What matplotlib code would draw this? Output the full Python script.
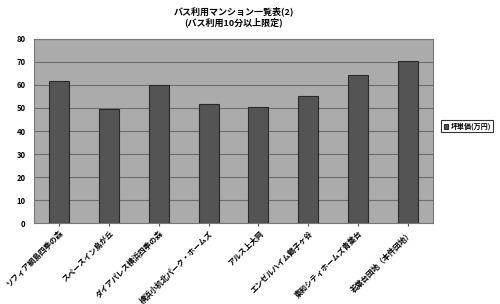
import matplotlib.pyplot as plt
import matplotlib.ticker as ticker

names = ['ソフィア綱島四季の森', 'スペースイン鳥が丘', 'ダイアパレス横浜四季の森',
         '横浜小机北パーク・ホームズ', 'アルス上大岡', 'エンゼルハイム鶴子ヶ谷',
         '東和シティホームズ青葉台', '若葉台団地（本件団地）']
tsubo_price = [61.7, 49.6, 60.0, 51.8, 50.5, 55.3, 64.2, 70.5]

plt.rcParams['font.family'] = ['Noto Sans CJK JP', 'DejaVu Sans']

fig = plt.figure(figsize=(5.0, 3.04), dpi=100)
ax = fig.add_axes([0.068, 0.266, 0.798, 0.606])
ax.set_facecolor('#ababab')

x = range(len(names))
ax.bar(x, tsubo_price, width=0.4, color='#545454', edgecolor='#2a2a2a',
       linewidth=0.8, zorder=3, label='坪単価(万円)')

ax.set_ylim(0, 80)
ax.set_xlim(-0.5, len(names) - 0.5)
ax.yaxis.set_major_locator(ticker.MultipleLocator(10))
ax.grid(axis='y', color='#6e6e6e', linewidth=0.8, zorder=1)

ax.set_xticks(list(x))
ax.set_xticklabels(names, rotation=45, ha='right', rotation_mode='anchor',
                   fontsize=5.5, fontweight='bold')
for lab in ax.get_yticklabels():
    lab.set_fontsize(5.5)
    lab.set_fontweight('bold')
ax.tick_params(axis='x', length=2, pad=2, color='#555555')
ax.tick_params(axis='y', length=0, pad=6)

for s in ax.spines.values():
    s.set_color('#777777')
    s.set_linewidth(0.8)

fig.text(0.467, 0.978, 'バス利用マンション一覧表(2)', ha='center', va='top',
         fontsize=6.5, fontweight='bold')
fig.text(0.467, 0.942, '(バス利用10分以上限定)', ha='center', va='top',
         fontsize=6.5, fontweight='bold')

leg = ax.legend(loc='center left', bbox_to_anchor=(0.876, 0.585),
                bbox_transform=fig.transFigure, frameon=True,
                fancybox=False, edgecolor='black', handlelength=0.7,
                handleheight=0.7, handletextpad=0.3, borderpad=0.3,
                prop={'weight': 'bold', 'size': 5})
leg.get_frame().set_linewidth(0.8)

fig.savefig('out.png', dpi=100)
